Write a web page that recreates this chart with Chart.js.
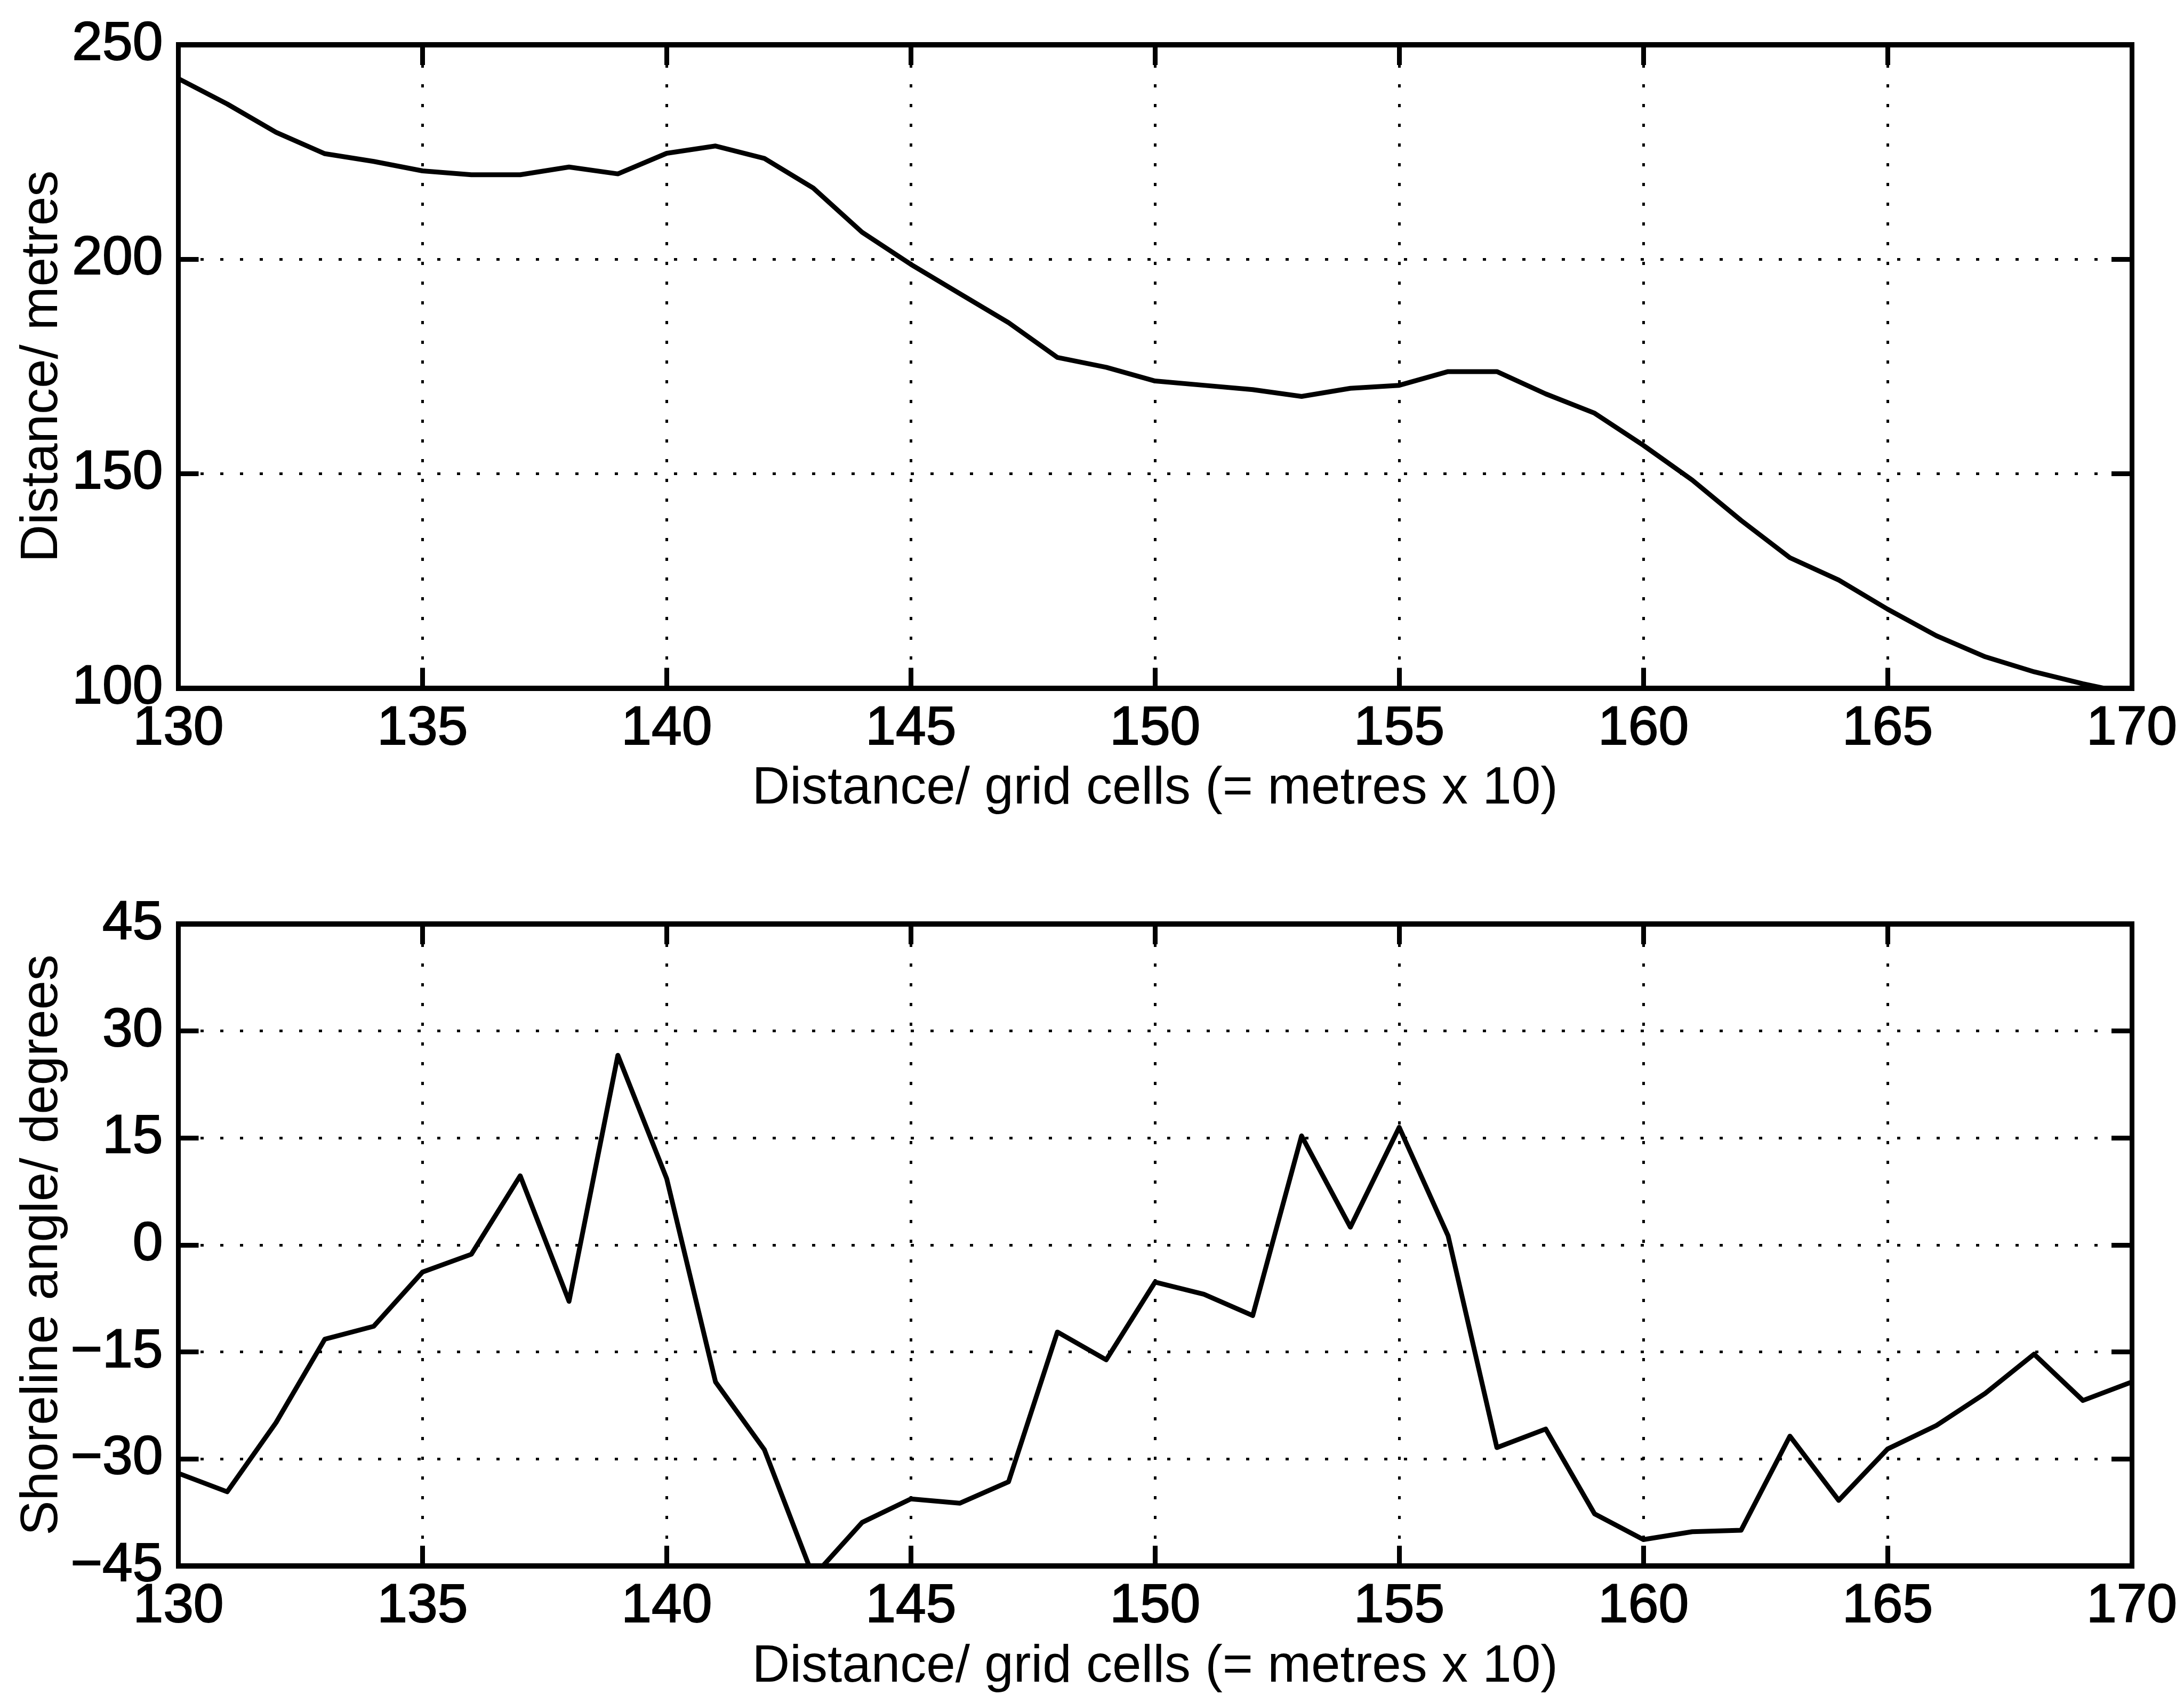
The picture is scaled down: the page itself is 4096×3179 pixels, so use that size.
<!DOCTYPE html>
<html>
<head>
<meta charset="utf-8">
<title>Shoreline position and angle</title>
<script src="https://cdn.jsdelivr.net/npm/chart.js@4/dist/chart.umd.min.js"></script>
<style>
  html, body { margin: 0; padding: 0; background: #ffffff; }
  body { width: 4096px; height: 3179px; position: relative; overflow: hidden; }
  canvas { position: absolute; left: 0; }
  #distanceChart { top: 0; }
  #angleChart { top: 1560px; }
</style>
</head>
<body>
<canvas id="distanceChart" width="4096" height="1560"></canvas>
<canvas id="angleChart" width="4096" height="1619"></canvas>
<script>
// Alongshore position in grid cells
const cells = [130, 131, 132, 133, 134, 135, 136, 137, 138, 139,
               140, 141, 142, 143, 144, 145, 146, 147, 148, 149,
               150, 151, 152, 153, 154, 155, 156, 157, 158, 159,
               160, 161, 162, 163, 164, 165, 166, 167, 168, 169, 170];

// Cross-shore distance of the shoreline (metres)
const shorelineDistance = [242.1, 236.2, 229.6, 224.6, 222.8, 220.6, 219.7, 219.7, 221.5, 219.9,
                           224.7, 226.4, 223.5, 216.6, 206.3, 198.8, 192.0, 185.2, 177.1, 174.8,
                           171.6, 170.6, 169.6, 168.0, 169.9, 170.6, 173.8, 173.8, 168.6, 164.1,
                           156.6, 148.5, 139.1, 130.4, 125.2, 118.4, 112.2, 107.3, 103.8, 101.0, 98.6];

// Local shoreline angle (degrees)
const shorelineAngle = [-32.0, -34.6, -24.9, -13.2, -11.4, -3.8, -1.3, 9.7, -7.9, 26.6,
                        9.3, -19.2, -28.7, -46.5, -38.9, -35.6, -36.2, -33.2, -12.2, -16.1,
                        -5.2, -6.9, -9.9, 15.3, 2.5, 16.5, 1.3, -28.4, -25.8, -37.7,
                        -41.3, -40.2, -40.0, -26.8, -35.8, -28.6, -25.3, -20.8, -15.3, -21.8, -19.2];

// Tick positions
const cellTicks = [130, 135, 140, 145, 150, 155, 160, 165, 170];
const distanceTicks = [100, 150, 200, 250];
const angleTicks = [-45, -30, -15, 0, 15, 30, 45];

const FONT = '"Liberation Sans", Arial, Helvetica, sans-serif';
const BLACK = '#000000';
const X_TITLE = 'Distance/ grid cells (= metres x 10)';

function fixedTicks(values) {
  return scale => { scale.ticks = values.map(v => ({ value: v })); };
}

// Negative tick values are printed with a true minus sign
function tickText(v) {
  return v < 0 ? '\u2212' + Math.abs(v) : String(v);
}

// Box-style axes: dotted grid, ticks pointing inward on all four sides
function buildScales(yTicks, yTitle) {
  const yMin = yTicks[0];
  const yMax = yTicks[yTicks.length - 1];
  const inwardTicks = { drawTicks: true, tickLength: -38, tickWidth: 9, tickColor: BLACK, tickBorderDash: [] };
  const tickFont = { family: FONT, size: 102 };
  const titleFont = { family: FONT, size: 98, lineHeight: 1 };
  return {
    x: {
      type: 'linear', position: 'bottom', min: cellTicks[0], max: cellTicks[cellTicks.length - 1],
      afterBuildTicks: fixedTicks(cellTicks),
      grid: Object.assign({ color: BLACK, lineWidth: 5, drawOnChartArea: true }, inwardTicks),
      border: { display: true, color: BLACK, width: 10, dash: [6, 31] },
      ticks: { color: BLACK, font: tickFont, padding: 54, maxRotation: 0, autoSkip: false,
               textStrokeColor: BLACK, textStrokeWidth: 2, callback: tickText },
      title: { display: true, text: X_TITLE, color: BLACK, font: titleFont, padding: { top: 0, bottom: 0 } },
      afterFit: s => { s.height = 238.5; s.paddingLeft = 0; s.paddingRight = 0; }
    },
    x2: {
      type: 'linear', position: 'top', min: cellTicks[0], max: cellTicks[cellTicks.length - 1],
      afterBuildTicks: fixedTicks(cellTicks),
      grid: Object.assign({ color: BLACK, lineWidth: 5, drawOnChartArea: false }, inwardTicks),
      border: { display: true, color: BLACK, width: 10 },
      ticks: { display: false },
      afterFit: s => { s.height = 0; s.paddingLeft = 0; s.paddingRight = 0; }
    },
    y: {
      type: 'linear', position: 'left', min: yMin, max: yMax,
      afterBuildTicks: fixedTicks(yTicks),
      grid: Object.assign({ color: BLACK, lineWidth: 5, drawOnChartArea: true }, inwardTicks),
      border: { display: true, color: BLACK, width: 9, dash: [6, 31] },
      ticks: { color: BLACK, font: tickFont, padding: 67, autoSkip: false,
               textStrokeColor: BLACK, textStrokeWidth: 2, callback: tickText },
      title: { display: true, text: yTitle, color: BLACK, font: titleFont, padding: { top: 31, bottom: 0 } },
      afterFit: s => { s.width = 334.5; s.paddingTop = 0; s.paddingBottom = 0; }
    },
    y2: {
      type: 'linear', position: 'right', min: yMin, max: yMax,
      afterBuildTicks: fixedTicks(yTicks),
      grid: Object.assign({ color: BLACK, lineWidth: 5, drawOnChartArea: false }, inwardTicks),
      border: { display: true, color: BLACK, width: 9 },
      ticks: { display: false },
      afterFit: s => { s.width = 0; s.paddingTop = 0; s.paddingBottom = 0; }
    }
  };
}

function drawPanel(canvasId, values, yTicks, yTitle, padTop, padBottom) {
  return new Chart(document.getElementById(canvasId), {
    type: 'line',
    data: {
      datasets: [{
        data: cells.map((c, i) => ({ x: c, y: values[i] })),
        borderColor: BLACK,
        borderWidth: 9,
        borderJoinStyle: 'round',
        pointRadius: 0,
        tension: 0,
        fill: false,
        clip: 0,
        xAxisID: 'x',
        yAxisID: 'y'
      }]
    },
    options: {
      responsive: false,
      animation: false,
      devicePixelRatio: 1,
      layout: { autoPadding: false, padding: { left: 0, right: 98, top: padTop, bottom: padBottom } },
      plugins: { legend: { display: false }, tooltip: { enabled: false }, title: { display: false } },
      scales: buildScales(yTicks, yTitle)
    }
  });
}

drawPanel('distanceChart', shorelineDistance, distanceTicks, 'Distance/ metres', 84, 31);
drawPanel('angleChart', shorelineAngle, angleTicks, 'Shoreline angle/ degrees', 173, 3.5);
</script>
</body>
</html>
